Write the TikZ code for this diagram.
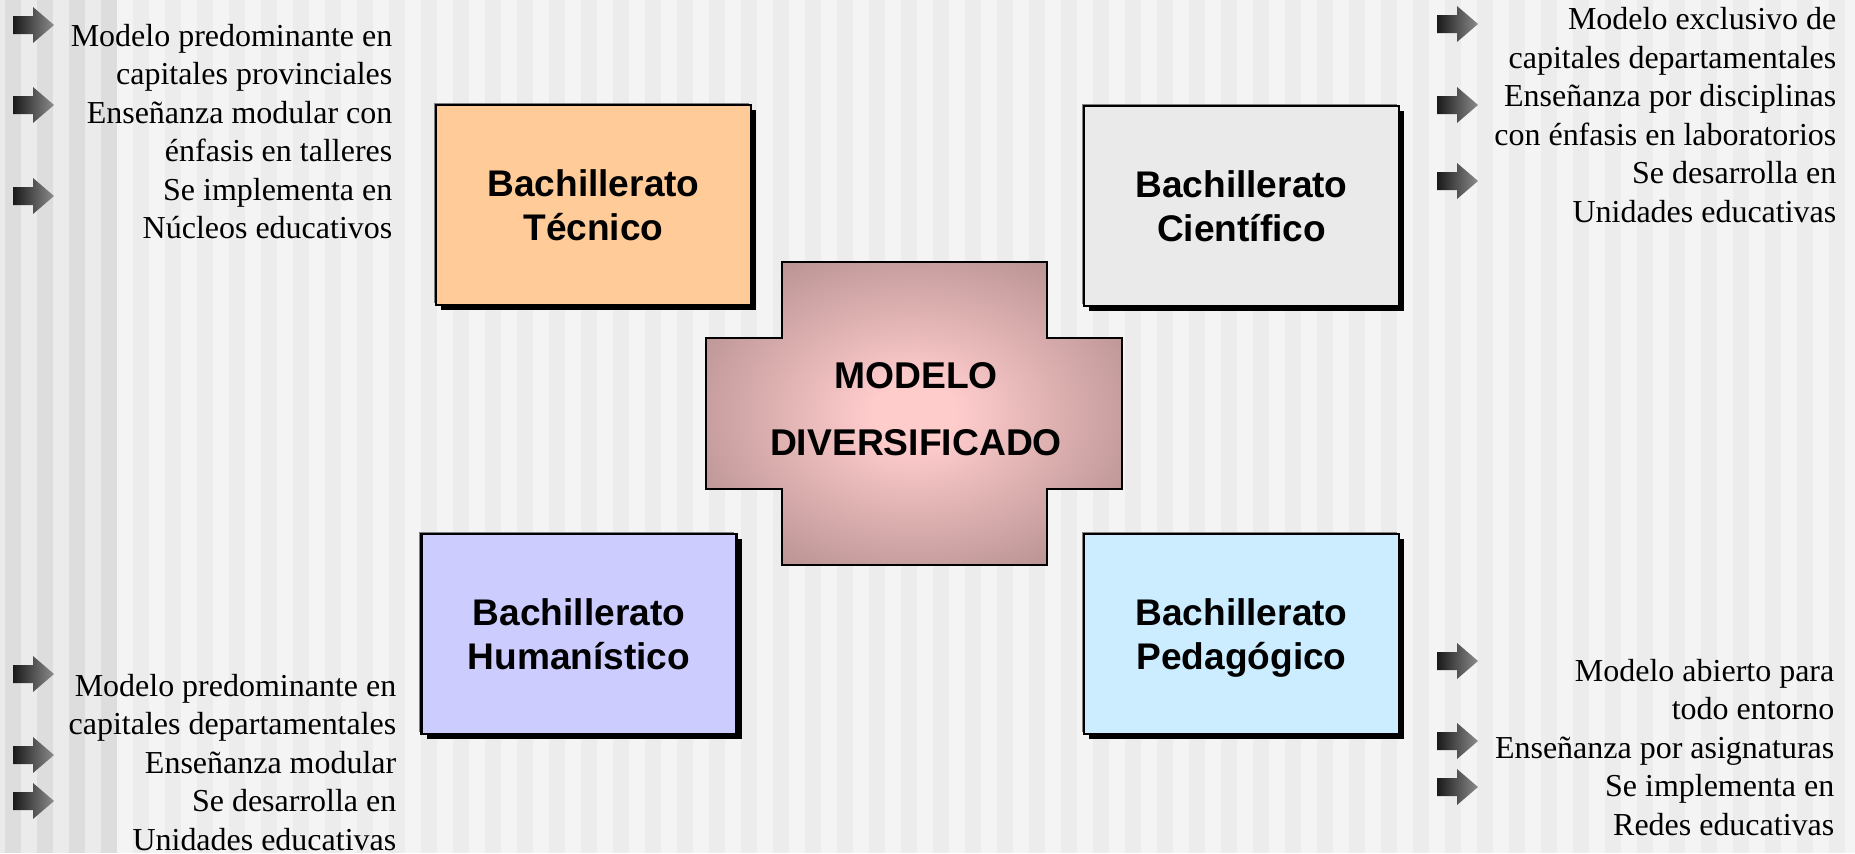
\documentclass[tikz,border=0pt]{standalone}
\usepackage{fontspec}
\setmainfont{Liberation Serif}
\setsansfont{Liberation Sans}
\usetikzlibrary{shadows}
\definecolor{rayaclara}{HTML}{F4F4F4}
\definecolor{rayaoscura}{HTML}{ECECEC}
\definecolor{bordeclaro}{HTML}{EBEBEB}
\definecolor{bordeoscuro}{HTML}{DDDDDD}
\definecolor{tecnico}{HTML}{FFCC99}
\definecolor{cientifico}{HTML}{EAEAEA}
\definecolor{humanistico}{HTML}{CCCCFF}
\definecolor{pedagogico}{HTML}{CCECFF}
\definecolor{cruzcentro}{HTML}{FFCCCC}
\definecolor{cruzborde}{HTML}{A98585}
\pgfdeclareradialshading{cruz}{\pgfpoint{0bp}{0bp}}{color(0bp)=(cruzcentro); color(5bp)=(cruzcentro); color(36bp)=(cruzborde); color(50bp)=(cruzborde)}
\begin{document}
\begin{tikzpicture}[
bach/.style={draw=black, line width=0.7pt, minimum width=3.15cm, minimum height=2cm, inner sep=0pt, align=center,
  font=\sffamily\bfseries\fontsize{10.55}{12.5}\selectfont,
  general shadow={fill=gray, shadow xshift=-0.025cm, shadow yshift=0.025cm},
  general shadow={fill=black, shadow xshift=0.05cm, shadow yshift=-0.05cm}},
nota/.style={anchor=base east, align=right, inner sep=0pt, font=\fontsize{9.1}{10.95}\selectfont},
flecha/.pic={\shade[left color=black!90, right color=black!45] (0,-0.09) -- (0.2,-0.09) -- (0.2,-0.18) -- (0.41,0) -- (0.2,0.18) -- (0.2,0.09) -- (0,0.09) -- cycle;}
]
\useasboundingbox (0,0) rectangle (18.55,8.53);
%fondo a rayas
\fill[rayaclara] (0,0) rectangle (18.55,8.53);
\fill[bordeclaro] (0,0) rectangle (1.17,8.53);
\foreach \k in {0,...,57}{
\fill[rayaoscura] (0.05+0.32*\k,0) rectangle (0.21+0.32*\k,8.53);
}
\foreach \k in {0,...,3}{
\fill[bordeoscuro] (0.05+0.32*\k,0) rectangle (0.21+0.32*\k,8.53);
}
%cruz central
\shade[shading=cruz, draw=black, line width=0.4pt] (7.82,5.91) -- (10.47,5.91) -- (10.47,5.15) -- (11.22,5.15) -- (11.22,3.64) -- (10.47,3.64) -- (10.47,2.88) -- (7.82,2.88) -- (7.82,3.64) -- (7.06,3.64) -- (7.06,5.15) -- (7.82,5.15) -- cycle;
\node[align=center, inner sep=0pt, font=\sffamily\bfseries\fontsize{10.6}{19}\selectfont] (modelo) at (9.16,4.44) {MODELO\\DIVERSIFICADO};
%bachilleratos
\node[bach, fill=tecnico] (tecnico) at (5.935,6.48) {Bachillerato\\Técnico};
\node[bach, fill=cientifico] (cientifico) at (12.415,6.47) {Bachillerato\\Científico};
\node[bach, fill=humanistico] (humanistico) at (5.79,2.19) {Bachillerato\\Humanístico};
\node[bach, fill=pedagogico] (pedagogico) at (12.415,2.19) {Bachillerato\\\smash{Pedagógico}};
%notas (ancladas en la ultima linea)
\foreach \y in {8.28,7.48,6.57} \pic at (0.13,\y) {flecha};
\foreach \y in {8.29,7.48,6.72} \pic at (14.37,\y) {flecha};
\foreach \y in {1.79,0.98,0.52} \pic at (0.13,\y) {flecha};
\foreach \y in {1.92,1.12,0.66} \pic at (14.37,\y) {flecha};
\node[nota] (notaTecnico) at (3.93,6.145) {Modelo predominante en\\capitales provinciales\\Enseñanza modular con\\énfasis en talleres\\Se implementa en\\Núcleos educativos};
\node[nota] (notaCientifico) at (18.37,6.31) {Modelo exclusivo de\\capitales departamentales\\Enseñanza por disciplinas\\con énfasis en laboratorios\\Se desarrolla en\\Unidades educativas};
\node[nota] (notaHumanistico) at (3.97,0.03) {Modelo predominante en\\capitales departamentales\\Enseñanza modular\\Se desarrolla en\\Unidades educativas};
\node[nota] (notaPedagogico) at (18.35,0.18) {Modelo abierto para\\todo entorno\\Enseñanza por asignaturas\\Se implementa en\\Redes educativas};
\end{tikzpicture}
\end{document}
